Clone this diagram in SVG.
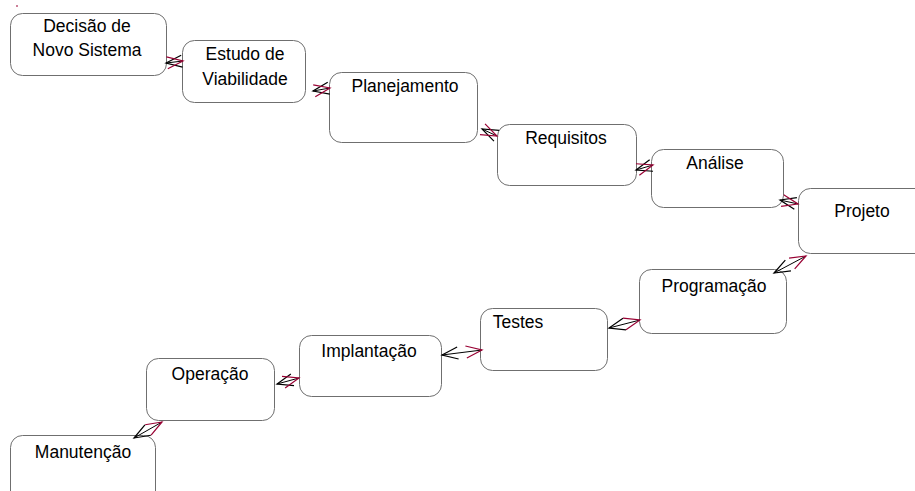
<svg xmlns="http://www.w3.org/2000/svg" width="915" height="491" viewBox="0 0 915 491">
  <style>
    .box { fill: #ffffff; stroke: #6f6f6f; stroke-width: 1; }
    .lbl { font-family: "Liberation Sans", Arial, sans-serif; font-size: 17.5px; fill: #000000; text-anchor: middle; }
    .link { stroke: #000000; stroke-width: 1; fill: none; marker-start: url(#headBlack); marker-end: url(#headCrimson); }
  </style>
  <defs>
    <marker id="headBlack" markerUnits="userSpaceOnUse" orient="auto" refX="0" refY="0" markerWidth="1" markerHeight="1" overflow="visible">
      <path d="M16,-6 L0,0 L16,6" fill="none" stroke="#000000" stroke-width="1.2"/>
    </marker>
    <marker id="headCrimson" markerUnits="userSpaceOnUse" orient="auto" refX="0" refY="0" markerWidth="1" markerHeight="1" overflow="visible">
      <path d="M-16,-6 L0,0 L-16,6" fill="none" stroke="#990033" stroke-width="1.2"/>
    </marker>
  </defs>
  <rect width="915" height="491" fill="#ffffff"/>
  <line x1="16" y1="6" x2="18" y2="6" stroke="#990033" stroke-width="1"/>

  <g id="decisao">
    <rect class="box" x="10.5" y="13.5" width="156" height="62" rx="12"/>
    <text class="lbl" x="87" y="32">Decisão de</text>
    <text class="lbl" x="87" y="56">Novo Sistema</text>
  </g>
  <g id="estudo">
    <rect class="box" x="182.5" y="40.5" width="123" height="62" rx="12"/>
    <text class="lbl" x="245" y="60">Estudo de</text>
    <text class="lbl" x="245" y="85">Viabilidade</text>
  </g>
  <g id="planejamento">
    <rect class="box" x="329.5" y="72.5" width="148" height="70" rx="12"/>
    <text class="lbl" x="405" y="92">Planejamento</text>
  </g>
  <g id="requisitos">
    <rect class="box" x="497.5" y="124.5" width="139" height="61" rx="12"/>
    <text class="lbl" x="566" y="144">Requisitos</text>
  </g>
  <g id="analise">
    <rect class="box" x="651.5" y="149.5" width="132" height="58" rx="12"/>
    <text class="lbl" x="715" y="169">Análise</text>
  </g>
  <g id="projeto">
    <rect class="box" x="798.5" y="188.5" width="130" height="65" rx="12"/>
    <text class="lbl" x="862" y="217">Projeto</text>
  </g>
  <g id="programacao">
    <rect class="box" x="639.5" y="269.5" width="147" height="64" rx="12"/>
    <text class="lbl" x="714" y="292">Programação</text>
  </g>
  <g id="testes">
    <rect class="box" x="480.5" y="308.5" width="127" height="62" rx="12"/>
    <text class="lbl" x="518" y="328">Testes</text>
  </g>
  <g id="implantacao">
    <rect class="box" x="299.5" y="335.5" width="142" height="61" rx="12"/>
    <text class="lbl" x="369" y="357">Implantação</text>
  </g>
  <g id="operacao">
    <rect class="box" x="146.5" y="358.5" width="128" height="62" rx="12"/>
    <text class="lbl" x="210" y="380">Operação</text>
  </g>
  <g id="manutencao">
    <rect class="box" x="10.5" y="435.5" width="145" height="70" rx="12"/>
    <text class="lbl" x="83" y="458">Manutenção</text>
  </g>

  <g id="connectors">
    <line class="link" x1="166" y1="63" x2="183" y2="61"/>
    <line class="link" x1="313" y1="91" x2="330" y2="88"/>
    <line class="link" x1="482" y1="129" x2="497" y2="136"/>
    <line class="link" x1="636" y1="170" x2="653" y2="165"/>
    <line class="link" x1="780" y1="200" x2="798" y2="204"/>
    <line class="link" x1="774" y1="273" x2="806" y2="256"/>
    <line class="link" x1="609" y1="328" x2="640" y2="320"/>
    <line class="link" x1="442" y1="355" x2="482" y2="350"/>
    <line class="link" x1="277" y1="384" x2="299" y2="378"/>
    <line class="link" x1="134" y1="438" x2="162" y2="422"/>
  </g>
</svg>
